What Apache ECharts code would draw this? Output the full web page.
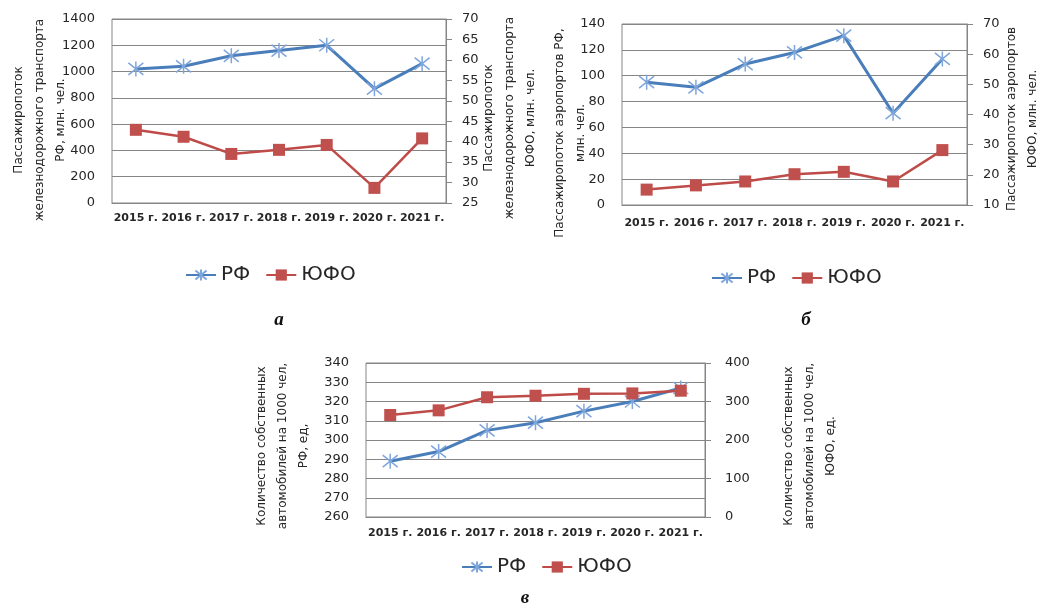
<!DOCTYPE html>
<html><head><meta charset="utf-8">
<script src="https://cdn.jsdelivr.net/npm/echarts@6/dist/echarts.min.js"></script>
<style>html,body{margin:0;padding:0;background:#fff}#c{width:1040px;height:610px}</style>
</head><body><div id="c"></div>
<script>
const years = ['2015 г.','2016 г.','2017 г.','2018 г.','2019 г.','2020 г.','2021 г.'];
// а: railway passenger traffic
const railRF  = [1020, 1040, 1120, 1160, 1200, 870, 1060];
const railUFO = [42.9, 41.2, 37.0, 38.0, 39.2, 28.7, 40.8];
// б: airports passenger traffic
const airRF  = [95, 91, 109, 118, 131, 71, 113];
const airUFO = [15.1, 16.5, 17.8, 20.2, 21.0, 17.8, 28.2];
// в: cars per 1000 people
const carRF  = [289, 294, 305, 309, 315, 320, 327];
const carUFO = [265, 277, 311, 315, 320, 321, 328];
const legendNames = ['РФ', 'ЮФО'];

const FONT = 'DejaVu Sans';
const GRAY = '#868686';
const TXT = '#262626';
const BLUE = '#4A7EBB', BLUE_M = '#7FA6DA', RED = '#BE4B48';
const STAR = 'path://M-1,-1L1,1M-1,1L1,-1M0,-1.25L0,1.25';

function xAx(g, margin) {
  return {type:'category', gridIndex:g, data:years, boundaryGap:true,
    axisLine:{show:true, lineStyle:{color:GRAY}}, axisTick:{show:false},
    axisLabel:{interval:0, fontFamily:FONT, fontWeight:'bold', fontSize:11, color:TXT, margin:margin}};
}
function yLeft(g, min, max, iv) {
  return {type:'value', gridIndex:g, min:min, max:max, interval:iv, position:'left',
    axisLine:{show:false}, axisTick:{show:false},
    splitLine:{show:true, lineStyle:{color:GRAY, width:1}},
    axisLabel:{fontFamily:FONT, fontSize:13, color:TXT, margin:17, formatter:(v)=>String(v)}};
}
function yRight(g, min, max, iv, margin) {
  return {type:'value', gridIndex:g, min:min, max:max, interval:iv, position:'right',
    axisLine:{show:true, lineStyle:{color:GRAY}},
    axisTick:{show:true, inside:false, length:6, lineStyle:{color:GRAY}},
    splitLine:{show:false},
    axisLabel:{fontFamily:FONT, fontSize:13, color:TXT, margin:margin, formatter:(v)=>String(v)}};
}
function rf(data, x, y) {
  return {name:'РФ', type:'line', xAxisIndex:x, yAxisIndex:y, data:data,
    symbol:STAR, symbolSize:15, lineStyle:{color:BLUE, width:3},
    itemStyle:{color:'rgba(0,0,0,0)', borderColor:BLUE_M, borderWidth:1.5}, color:BLUE};
}
function ufo(data, x, y) {
  return {name:'ЮФО', type:'line', xAxisIndex:x, yAxisIndex:y, data:data,
    symbol:'rect', symbolSize:12, lineStyle:{color:RED, width:2.5},
    itemStyle:{color:'#C0504D'}, color:RED};
}
function legend(left, top) {
  return {data:legendNames, left:left, top:top, padding:0, itemGap:15, itemWidth:30, itemHeight:14,
    selectedMode:false, textStyle:{fontFamily:FONT, fontSize:20, color:TXT}};
}
function title(text, x, y) {
  return {type:'text', x:x, y:y, rotation:Math.PI/2,
    style:{text:text, fontFamily:FONT, fontSize:12, lineHeight:21, fill:TXT, align:'center', verticalAlign:'middle'}};
}
function caption(text, x, y) {
  return {type:'text', x:x, y:y,
    style:{text:text, fontFamily:'Liberation Serif', fontStyle:'italic', fontWeight:'bold', fontSize:19, fill:'#111', align:'center', verticalAlign:'middle'}};
}

const chart = echarts.init(document.getElementById('c'), null, {renderer:'canvas'});
chart.setOption({
  animation:false,
  backgroundColor:'#fff',
  grid:[
    {left:112, top:19, width:334, height:184, show:true, borderColor:GRAY, borderWidth:1},
    {left:622, top:24, width:345, height:181, show:true, borderColor:GRAY, borderWidth:1},
    {left:366, top:363, width:339, height:154, show:true, borderColor:GRAY, borderWidth:1}
  ],
  xAxis:[xAx(0,10), xAx(1,13), xAx(2,11)],
  yAxis:[
    yLeft(0, 0, 1400, 200), yRight(0, 25, 70, 5, 16),
    yLeft(1, 0, 140, 20), yRight(1, 10, 70, 10, 16),
    yLeft(2, 260, 340, 10), yRight(2, 0, 400, 100, 20)
  ],
  legend:[legend(185, 265), legend(711, 268), legend(461, 557)],
  series:[
    rf(railRF, 0, 0), ufo(railUFO, 0, 1),
    rf(airRF, 1, 2), ufo(airUFO, 1, 3),
    rf(carRF, 2, 4), ufo(carUFO, 2, 5)
  ],
  graphic:[
    title('Пассажиропоток\nжелезнодорожного транспорта\nРФ, млн. чел.', 40, 120),
    title('Пассажиропоток\nжелезнодорожного транспорта\nЮФО, млн. чел.', 510, 118),
    title('Пассажиропоток аэропортов РФ,\nмлн. чел.', 570, 133),
    title('Пассажиропоток аэропортов\nЮФО, млн. чел.', 1022, 119),
    title('Количество собственных\nавтомобилей на 1000 чел,\nРФ, ед,', 283, 446),
    title('Количество собственных\nавтомобилей на 1000 чел,\nЮФО, ед.', 810, 446),
    caption('а', 279, 320),
    caption('б', 806, 320),
    caption('в', 525, 598)
  ]
});
</script></body></html>
